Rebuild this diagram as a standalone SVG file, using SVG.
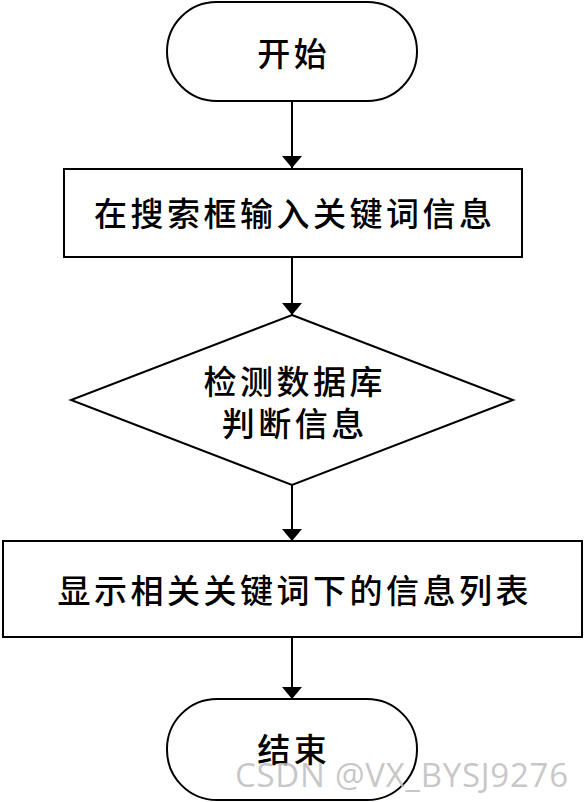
<svg xmlns="http://www.w3.org/2000/svg" width="584" height="802" viewBox="0 0 584 802">
<style>
.shape{fill:#fff;stroke:#000;stroke-width:2}
.lbl{font-family:"Noto Sans CJK SC","Noto Sans",sans-serif;font-size:33px;font-weight:500;fill:#000;text-anchor:middle;dominant-baseline:central;letter-spacing:3.5px}
.conn{stroke:#000;stroke-width:2;fill:none}
.wm{font-family:"Open Sans","Liberation Sans",sans-serif;font-size:33px;fill:#bdbdbd;fill-opacity:0.85}
</style>
<defs>
<marker id="arr" viewBox="0 0 12 20" refX="12" refY="10" markerWidth="12" markerHeight="20" markerUnits="userSpaceOnUse" orient="auto">
<path d="M0,0 L12,10 L0,20 Z" fill="#000"/>
</marker>
</defs>
<rect width="584" height="802" fill="#fff"/>
<g id="connectors">
<line class="conn" x1="292" y1="101" x2="292" y2="168" marker-end="url(#arr)"/>
<line class="conn" x1="292" y1="257" x2="292" y2="315" marker-end="url(#arr)"/>
<line class="conn" x1="292" y1="485" x2="292" y2="541" marker-end="url(#arr)"/>
<line class="conn" x1="292" y1="637" x2="292" y2="699" marker-end="url(#arr)"/>
</g>
<g id="start">
<rect class="shape" x="167" y="2" width="250" height="99" rx="49.5" ry="49.5"/>
<text class="lbl" x="293.75" y="52">开始</text>
</g>
<g id="input">
<rect class="shape" x="64" y="169" width="458" height="88"/>
<text class="lbl" x="294.75" y="212">在搜索框输入关键词信息</text>
</g>
<g id="decision">
<polygon class="shape" points="292,315 513,400 292,485 71,400"/>
<text class="lbl" x="294.75" y="380">检测数据库</text>
<text class="lbl" x="294.75" y="422">判断信息</text>
</g>
<g id="display">
<rect class="shape" x="3" y="541" width="579" height="96"/>
<text class="lbl" x="294.75" y="589">显示相关关键词下的信息列表</text>
</g>
<g id="end">
<rect class="shape" x="167" y="699" width="250" height="101" rx="50" ry="50"/>
<text class="lbl" x="293.75" y="748">结束</text>
</g>
<text class="wm" x="235" y="787" textLength="333" lengthAdjust="spacing">CSDN @VX_BYSJ9276</text>
</svg>
